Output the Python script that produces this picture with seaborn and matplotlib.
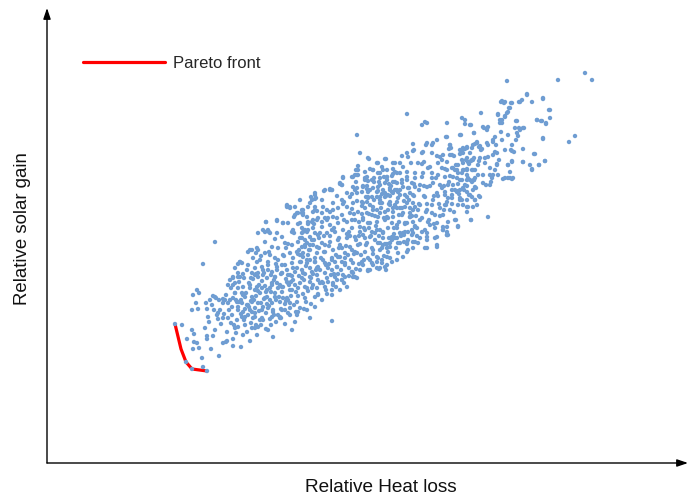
import matplotlib
matplotlib.use("Agg")
import matplotlib.pyplot as plt
import seaborn as sns
import pandas as pd

sns.set_theme(style="white")
plt.rcParams["font.family"] = ["Liberation Sans", "DejaVu Sans"]

# ---- data: (relative heat loss, relative solar gain) ----
lower_tail = [
    (175,176),(186,138),(192,131),(207,129),(182,175),(197,210),(199,207),(193,205),(196,197),(198,191),
    (192,190),(206,197),(210,200),(213,204),(216,202),(207,191),(214,190),(218,187),(208,183),(218,181),
    (220,190),(223,197),(225,200),(228,182),(231,177),(234,175),(237,180),(236,167),(243,165),(245,175),
    (250,159),(255,172),(256,175),(261,175),(266,171),(271,175),(273,163),(281,182),(292,170),(192,170),
    (194,166),(187,161),(194,158),(197,157),(199,152),(193,151),(207,164),(207,161),(213,164),(211,151),
    (223,157),(226,158),(227,159),(233,161),(233,154),(241,153),(219,144),(202,142),(203,133),(215,258),
    (203,236),(215,203),(223,201),(217,185),(223,182),(238,173),(252,172),(258,173),(260,180),(270,181),
    (280,182),(282,190),(297,185),(304,191),(310,182),(315,193),(332,179),(230,220),(233,223),(238,227),
    (240,238),(248,248),(252,250),(257,252),(238,236),
]

lower_core = [
    (228,215),(233,222),(238,223),(243,226),(255,225),(258,227),(263,225),(272,228),(275,223),(282,227),
    (290,225),(233,215),(238,212),(235,207),(242,207),(245,203),(250,212),(255,210),(262,212),(267,210),
    (272,215),(277,217),(282,213),(288,217),(292,210),(237,198),(242,197),(247,195),(252,198),(258,197),
    (265,202),(270,200),(275,203),(280,198),(287,202),(290,197),(243,188),(250,190),(255,187),(262,190),
    (268,192),(273,188),(285,190),(280,183),(253,182),(245,183),(238,190),(232,193),(228,197),(233,202),
    (238,193),(248,195),(255,192),(263,193),(272,197),(288,200),(297,198),(305,202),(315,203),(322,200),
    (332,205),(307,190),(298,188),(288,187),(278,185),(272,183),(255,183),(248,185),(242,183),
]

core_low = [
    (287,295),(290,293),(295,293),(297,287),(302,287),(303,290),(315,290),(294,283),(266,278),(277,279),
    (283,277),(288,277),(298,276),(308,276),(313,280),(318,282),(322,278),(328,282),(265,268),(270,267),
    (277,267),(282,263),(275,261),(292,268),(294,267),(303,268),(308,270),(315,267),(250,250),(258,250),
    (256,247),(265,247),(272,253),(278,252),(285,257),(292,255),(298,258),(302,253),(307,257),(312,260),
    (240,238),(242,237),(248,235),(235,232),(240,223),(252,227),(260,240),(268,238),(275,242),(283,245),
    (290,247),(297,248),(303,247),(310,250),(317,253),(255,232),(262,233),(268,230),(277,233),(285,235),
    (292,237),(300,238),(307,240),(315,242),(258,223),(267,222),(275,223),(282,227),(288,225),(295,228),
    (302,230),(310,232),(318,233),(325,237),(332,240),(338,243),(345,247),(352,250),(235,217),(243,213),
    (250,215),(257,213),(265,214),(272,217),(280,215),(287,218),(293,220),(302,222),(310,223),(317,225),
    (325,227),(332,230),(337,233),(345,237),(352,228),(235,207),(243,205),(252,203),(260,207),(267,203),
    (275,207),(282,208),(290,210),(298,212),(305,213),(313,215),(320,217),(328,218),(337,220),(345,223),
]

core_mid = [
    (343,323),(352,323),(357,325),(365,322),(372,320),(380,327),(387,323),(393,326),(340,316),(342,315),
    (325,310),(332,310),(315,305),(310,297),(315,293),(300,300),(323,293),(333,297),(342,300),(350,303),
    (357,307),(363,313),(370,310),(378,313),(385,317),(393,318),(402,317),(407,320),(415,322),
    (303,287),(313,288),(322,287),(330,288),(338,292),(347,293),(353,297),(362,298),(368,302),(377,303),
    (385,307),(392,308),(400,310),(408,312),(415,313),
    (300,277),(308,278),(317,280),(325,282),(333,283),(342,285),(350,287),(358,288),(365,292),(373,293),
    (382,297),(390,298),(398,302),(407,303),(413,305),
    (305,270),(313,272),(322,273),(330,275),(338,277),(347,278),(355,280),(363,282),(372,285),(380,287),
    (388,290),(397,292),(405,293),(413,297),
    (302,262),(310,263),(318,265),(327,267),(335,268),(343,270),(352,272),(360,273),(368,277),(377,278),
    (385,280),(393,283),(402,285),(410,287),(418,290),
    (305,253),(313,255),(322,257),(330,258),(338,260),(347,262),(355,263),(363,265),(372,268),(380,270),
    (388,272),(397,275),(405,277),(413,278),
    (300,245),(308,245),(317,247),(325,248),(333,250),(342,252),(350,253),(358,255),(367,257),(375,260),
    (383,262),(392,263),(400,267),(408,268),(415,258),
    (307,237),(315,238),(323,240),(332,242),(340,243),(348,245),(357,247),(365,248),(373,250),(382,252),
    (390,253),(398,257),(407,258),
    (303,227),(312,228),(320,230),(328,232),(337,233),(345,235),(353,237),(362,238),(370,240),(378,242),
    (387,243),(397,240),(407,248),(413,252),
    (310,218),(318,220),(327,222),(335,223),(343,225),(352,228),(360,230),(368,230),(377,232),(385,233),
    (353,227),(342,220),(333,215),(325,213),(317,212),(307,212),
]

upper_edge = [
    (357,365),(360,347),(369,341),(358,334),(356,330),(358,325),(353,323),(356,318),(340,317),(342,315),
    (330,310),(332,310),(324,309),(315,307),(311,303),(315,301),(353,313),(355,310),(352,306),(363,314),
    (367,314),(365,328),(370,331),(373,330),(377,337),(385,341),(382,333),(383,330),(387,330),(393,337),
    (395,337),(393,331),(397,327),(365,320),(368,319),(374,322),(380,322),(384,323),(387,320),(389,316),
    (395,318),(380,315),(373,312),(368,308),(362,308),(378,309),(383,310),(390,312),(395,310),(388,305),
    (380,303),(372,303),(366,303),(393,307),
]

core_high = [
    (446,363),(460,365),(474,367),(475,356),(467,353),(463,352),(437,360),(433,357),(413,356),(427,357),
    (450,355),(414,350),(402,344),(408,343),(422,347),(432,347),(440,343),(450,345),(460,346),(470,347),
    (462,340),(468,338),(472,340),(403,333),(411,337),(418,337),(424,338),(430,333),(438,337),(445,331),
    (447,330),(452,332),(455,330),(463,330),(467,331),(475,330),(458,335),(386,341),(378,337),(368,342),
    (373,330),(378,327),(367,323),(387,323),(395,328),(400,327),(407,323),(415,327),(423,327),(432,327),
    (438,325),(445,323),(453,323),(460,320),(470,320),(475,313),(463,312),(472,303),(467,300),(468,293),
    (458,295),(455,280),(458,273),(471,280),(443,285),(450,290),(440,292),(447,298),(433,300),(425,303),
    (437,307),(445,308),(452,305),(457,308),(420,315),(427,313),(433,317),(440,315),(448,315),(412,317),
    (403,313),(397,317),(410,307),(400,305),(420,295),(427,290),(432,287),(422,282),(428,278),(437,277),
    (443,270),(447,265),(435,262),(427,260),(422,268),(413,267),(415,273),(407,277),(410,283),(403,287),
    (413,290),(407,297),(397,298),(390,295),(393,288),(387,283),(392,277),(397,272),(403,267),(408,260),
    (400,257),(392,260),(383,267),(377,270),(370,277),(378,283),(373,290),(380,297),(385,303),(390,310),
    (377,308),(368,303),(363,297),(367,287),(363,280),(365,270),(370,263),(380,257),(387,252),
]

upper_right = [
    (527,405),(543,402),(550,390),(522,400),(519,398),(511,397),(509,392),(507,387),(501,398),(504,397),
    (481,387),(498,385),(505,383),(500,380),(502,377),(462,382),(465,380),(471,375),(465,376),(447,377),
    (516,379),(519,372),(524,372),(537,380),(541,379),(546,376),(517,367),(518,364),(495,363),(474,367),
    (483,373),(488,373),(487,370),(461,365),(447,363),(493,360),(487,357),(477,357),(473,355),(479,353),
    (467,352),(460,350),(450,355),(451,352),(452,345),(443,345),(442,340),(461,347),(467,342),(471,339),
    (473,340),(479,339),(485,342),(488,343),(495,348),(497,347),(511,350),(514,348),(523,351),(535,346),
    (543,362),(530,335),(532,330),(539,335),(545,339),(523,338),(512,338),(508,335),(497,335),(490,325),
    (492,322),(498,325),(503,321),(508,322),(512,321),(510,328),(483,317),(490,315),(478,325),(473,330),
    (467,330),(457,330),(458,327),(453,332),(462,320),(467,320),(472,318),(473,310),(467,308),(460,310),
    (453,315),(452,310),(469,305),(462,300),(463,295),(475,300),(480,303),(473,293),(448,302),(445,295),
]

upper_tail = [
    (507,419),(558,420),(585,427),(592,420),(527,406),(520,398),(532,398),(543,401),(502,399),(505,398),
    (512,397),(510,392),(508,388),(549,390),(498,386),(505,384),(502,380),(500,377),(517,379),(537,380),
    (542,379),(550,382),(546,377),(470,375),(484,372),(501,368),(515,372),(523,372),(575,364),(569,358),
    (543,361),(477,358),(480,354),(482,351),(493,358),(512,349),(534,346),(523,338),(532,331),(539,335),
    (545,339),(508,335),(512,339),(497,336),(493,325),(491,318),(505,322),(510,322),(513,322),(488,283),
    (471,280),(475,300),(477,295),(467,293),(467,288),(460,302),(458,309),(479,304),(458,274),(456,280),
    (447,265),(443,270),(427,263),(427,252),(437,253),(447,273),(474,320),(467,325),(463,337),(480,342),
    (465,351),(463,347),(449,351),(432,355),(426,355),(423,348),(413,349),(407,347),(427,377),(425,378),
    (422,375),(407,386),(400,337),
]

lower_right_edge = [
    (407,257),(413,258),(420,262),(427,267),(435,272),(437,263),(443,273),(447,268),(448,265),(437,255),
    (425,252),(408,250),(398,247),(390,242),(387,235),(380,232),(370,230),(368,229),(373,235),(379,231),
    (386,230),(382,237),(392,238),(403,243),(412,265),(418,257),(404,265),(397,262),(390,257),(383,255),
    (380,250),(388,248),(377,243),(347,213),(340,210),(332,210),(342,220),(353,223),(357,222),(356,231),
]

upper_left_edge = [
    (266,278),(268,270),(277,280),(287,293),(290,292),(295,285),(302,290),(283,277),(293,270),(302,267),
    (269,268),(263,270),(258,267),(265,258),(287,294),(298,287),(303,285),(308,293),(312,300),(316,302),
    (330,311),(343,322),(355,325),(358,330),
]

fill_a = [
    (244,222),(249,217),(253,221),(258,209),(262,219),(266,208),(270,212),(274,220),(279,203),(283,213),
    (286,221),(291,204),(295,215),(299,224),(246,207),(251,199),(256,204),(261,197),(264,201),(269,194),
    (276,200),(281,191),(285,196),(289,215),(294,195),(298,204),(241,200),(245,191),(252,188),(259,189),
    (266,187),(273,190),(283,202),(290,192),(296,208),(300,217),(256,226),(263,230),(268,235),(271,225),
    (277,230),(282,235),(287,230),(292,224),(297,232),(301,238),(253,242),(261,244),(270,245),(278,240),
    (286,252),(293,242),(299,250),(305,255),
]

fill_b = [
    (303,243),(306,234),(309,250),(311,222),(314,260),(316,230),(319,252),(321,242),(324,264),(326,235),
    (329,254),(331,225),(334,272),(336,245),(339,262),(341,230),(344,280),(346,254),(349,268),(351,240),
    (354,286),(356,260),(359,278),(361,245),(304,220),(308,209),(313,226),(318,205),(323,217),(327,206),
    (333,217),(338,226),(344,217),(349,232),(355,223),(359,236),(302,272),(307,283),(312,278),(317,289),
    (322,300),(327,280),(333,290),(337,304),(343,296),(347,307),(352,291),(357,299),(305,260),(310,255),
    (320,267),(330,264),(340,255),(350,264),(360,268),(315,238),(325,255),(335,238),(345,242),(355,248),
    (360,256),
]

fill_c = [
    (362,294),(364,272),(366,255),(367,311),(369,286),(371,264),(373,246),(374,300),(376,274),(378,257),
    (379,318),(381,292),(383,268),(384,244),(386,304),(388,282),(389,262),(391,314),(393,292),(394,272),
    (396,252),(398,308),(399,285),(401,264),(402,320),(404,299),(405,276),(407,256),(409,312),(410,292),
    (412,270),(414,304),(416,284),(417,264),(419,310),(420,280),(363,235),(368,242),(372,237),(377,238),
    (382,240),(375,284),(385,288),(395,295),(405,305),(415,293),(370,295),(380,300),(390,304),(400,292),
    (410,283),(365,262),(375,267),(385,256),(395,262),(405,268),(415,274),
]

fill_d = [
    (422,323),(424,304),(426,288),(428,332),(430,314),(432,295),(434,276),(436,322),(438,304),(440,284),
    (442,332),(444,314),(446,295),(448,278),(450,324),(452,302),(454,288),(456,335),(458,316),(460,300),
    (462,327),(464,310),(466,340),(468,322),(470,305),(425,270),(430,275),(435,285),(445,305),(455,310),
    (465,315),
]

fill_e = [
    (472,330),(474,342),(476,312),(478,335),(481,350),(483,325),(485,337),(488,355),(490,332),(493,345),
    (496,355),(499,340),(502,360),(505,350),(508,365),(512,355),(516,360),(520,370),(475,322),(486,315),
    (495,330),
]

fill_f = [
    (226,205),(229,190),(231,212),(236,200),(239,218),(241,186),(244,206),(247,230),(249,193),(251,222),
    (254,200),(257,238),(259,215),(262,182),(264,227),(267,196),(269,248),(271,208),(274,185),(276,236),
    (278,212),(281,226),(284,244),(286,199),(288,256),(291,218),(293,232),(296,188),(298,246),(300,262),
    (303,206),(305,226),(307,268),(310,240),(312,212),(314,276),(317,232),(319,262),(322,218),(324,248),
    (327,290),(329,236),(332,270),(334,226),(337,282),(339,252),(342,238),(344,298),(347,266),(349,224),
    (352,280),(354,246),(357,312),(359,264),(362,286),(364,240),(367,298),(369,272),(372,252),(374,318),
    (377,290),(379,264),(382,306),(384,282),(387,256),(389,296),(392,324),(394,266),(397,310),(399,278),
    (402,292),(404,258),(407,328),(409,300),(412,284),(414,316),(417,272),(419,296),(422,336),(424,314),
    (427,296),(429,280),(432,322),(434,304),(437,344),(439,296),(442,312),(444,290),(447,338),(449,318),
    (452,296),(454,344),(457,322),(459,306),(462,350),(464,330),(467,314),(469,336),(472,352),(474,320),
]

fill_g = [
    (205,172),(209,178),(212,195),(215,170),(219,200),(221,176),(224,186),(227,168),(230,200),(232,185),
    (235,172),(239,198),(244,180),(247,168),(251,177),(257,165),(263,180),(268,170),(276,178),(285,176),
    (290,185),(295,178),(300,192),(306,198),(311,196),(318,206),(326,210),(336,213),
]

pareto_heat_loss = [175, 181, 186, 192, 207]
pareto_solar_gain = [176, 151, 138, 131, 129]

groups = [lower_tail, lower_core, core_low, core_mid, upper_edge, core_high, upper_right,
          upper_tail, lower_right_edge, upper_left_edge, fill_a, fill_b, fill_c, fill_d, fill_e,
          fill_f, fill_g]
cloud = pd.DataFrame([p for g in groups for p in g], columns=["heat_loss", "solar_gain"])
front = pd.DataFrame({"heat_loss": pareto_heat_loss, "solar_gain": pareto_solar_gain})

# ---- figure ----
W, H = 689, 497
fig = plt.figure(figsize=(W / 100, H / 100), dpi=100)
fig.patch.set_facecolor("white")
ax = fig.add_axes([47 / W, (H - 463) / H, (688 - 47) / W, (463 - 8) / H])
ax.set_facecolor("white")

sns.lineplot(data=front, x="heat_loss", y="solar_gain", color="#ff0000", linewidth=2.3,
             ax=ax, zorder=2, label="Pareto front", sort=False)
sns.scatterplot(data=cloud, x="heat_loss", y="solar_gain", s=10, color="#6f9dd2",
                edgecolor="none", linewidth=0, ax=ax, zorder=3)

ax.set_xlim(47, 688)
ax.set_ylim(37, 492)
ax.set_xticks([])
ax.set_yticks([])
for sp in ax.spines.values():
    sp.set_visible(False)

arrow = dict(arrowstyle="-|>,head_length=0.65,head_width=0.22", color="black", lw=1.0,
             shrinkA=0, shrinkB=0, mutation_scale=10)
ax.annotate("", xy=(1, 0), xytext=(0, 0), xycoords="axes fraction", arrowprops=arrow)
ax.annotate("", xy=(0, 1), xytext=(0, 0), xycoords="axes fraction", arrowprops=arrow)

ax.set_xlabel("Relative Heat loss", fontsize=13.7, color="#111111")
ax.set_ylabel("Relative solar gain", fontsize=13.4, color="#111111")
ax.xaxis.set_label_coords((380.5 - 47) / 641, -(479 - 463) / 455)
ax.yaxis.set_label_coords(-(47 - 31) / 641, (463 - 229) / 455)

handles, labels = ax.get_legend_handles_labels()
ax.legend(handles=handles[:1], labels=labels[:1], frameon=False, loc="center left",
          bbox_to_anchor=(83 / W, 1 - 63 / H), bbox_transform=fig.transFigure,
          fontsize=12, handlelength=4.9, handletextpad=0.5, borderpad=0, borderaxespad=0)

fig.savefig("out.png", dpi=100, facecolor="white")
